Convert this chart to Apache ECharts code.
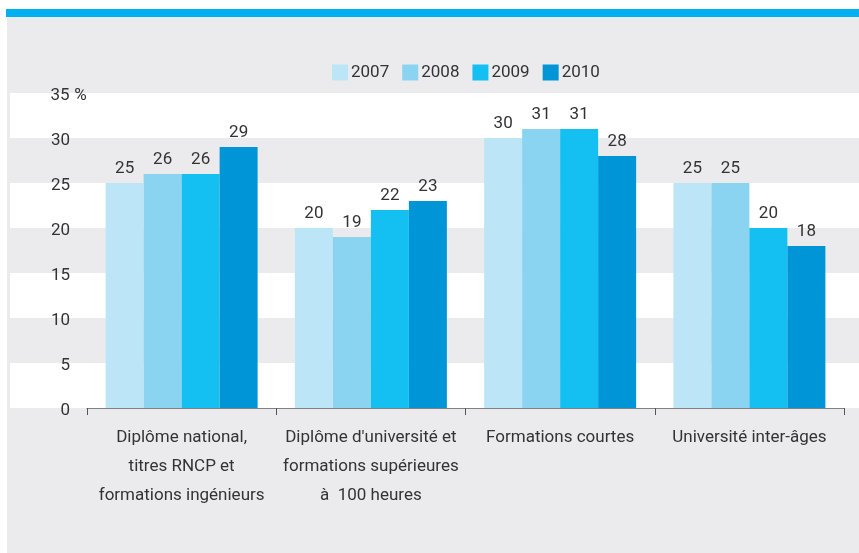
<!DOCTYPE html>
<html>
<head>
<meta charset="utf-8">
<script src="https://cdn.jsdelivr.net/npm/echarts@6/dist/echarts.min.js"></script>
<style>
html,body{margin:0;padding:0;background:#fff;}
#wrap{position:relative;width:859px;height:553px;overflow:hidden;}
#stripe{position:absolute;left:6px;top:9px;width:853px;height:8px;background:#00b0f0;}
#panel{position:absolute;left:7px;top:17px;width:852px;height:536px;background:#ebebee;}
#chart{position:absolute;left:0;top:0;width:859px;height:553px;}
</style>
</head>
<body>
<div id="wrap">
<div id="stripe"></div>
<div id="panel"></div>
<div id="chart"></div>
</div>
<script>
var categories = [
  "Diplôme national,\ntitres RNCP et\nformations ingénieurs",
  "Diplôme d'université et\nformations supérieures\nà  100 heures",
  "Formations courtes",
  "Université inter-âges"
];
var years = ["2007", "2008", "2009", "2010"];
var values2007 = [25, 20, 30, 25];
var values2008 = [26, 19, 31, 25];
var values2009 = [26, 22, 31, 20];
var values2010 = [29, 23, 28, 18];
var seriesValues = [values2007, values2008, values2009, values2010];
var colors = ["#bde5f8", "#8ad4f2", "#14c0f2", "#0095d7"];

var FONT = "Roboto";
var TXT = "#333333";

var chart = echarts.init(document.getElementById('chart'), null, {renderer: 'canvas'});

var series = years.map(function (y, i) {
  return {
    name: y,
    type: 'bar',
    xAxisIndex: 1,
    yAxisIndex: 1,
    data: seriesValues[i],
    barWidth: 38,
    barGap: '0%',
    itemStyle: {color: colors[i]},
    label: {
      show: true,
      position: 'top',
      distance: 6,
      color: TXT,
      fontFamily: FONT,
      fontSize: 17
    },
    z: 3
  };
});

var option = {
  backgroundColor: 'transparent',
  animation: false,
  textStyle: {fontFamily: FONT},
  legend: {
    data: years,
    left: 327,
    top: 59,
    itemWidth: 16,
    itemHeight: 16,
    itemGap: 13,
    icon: 'rect',
    textStyle: {color: TXT, fontFamily: FONT, fontSize: 17, padding: [0, 0, 0, -2]}
  },
  grid: [
    {left: 10, right: 0, top: 93, bottom: 145},
    {left: 87, right: 15, top: 93, bottom: 145}
  ],
  xAxis: [
    {gridIndex: 0, type: 'value', min: 0, max: 1, show: false},
    {
      gridIndex: 1,
      type: 'category',
      data: categories,
      axisLine: {show: true, lineStyle: {color: '#808080', width: 1}},
      axisTick: {show: true, length: 7, lineStyle: {color: '#555'}},
      axisLabel: {
        color: TXT,
        fontFamily: FONT,
        fontSize: 17,
        lineHeight: 29,
        margin: 15,
        interval: 0
      }
    }
  ],
  yAxis: [
    {
      gridIndex: 0,
      type: 'value',
      min: 0, max: 35, interval: 5,
      axisLine: {show: false},
      axisTick: {show: false},
      axisLabel: {show: false},
      splitLine: {show: false},
      splitArea: {show: true, areaStyle: {color: ['#ffffff', '#ebebee']}}
    },
    {
      gridIndex: 1,
      type: 'value',
      min: 0, max: 35, interval: 5,
      axisLine: {show: false},
      axisTick: {show: false},
      splitLine: {show: false},
      axisLabel: {
        align: 'left',
        margin: 37,
        padding: [5, 0, 0, 0],
        color: TXT,
        fontFamily: FONT,
        fontSize: 17,
        formatter: function (v) {
          return '{n|' + v + '}' + (v === 35 ? ' %' : '');
        },
        rich: {
          n: {width: 20, align: 'right', color: TXT, fontFamily: FONT, fontSize: 17}
        }
      }
    }
  ],
  series: series
};
chart.setOption(option);
</script>
</body>
</html>
